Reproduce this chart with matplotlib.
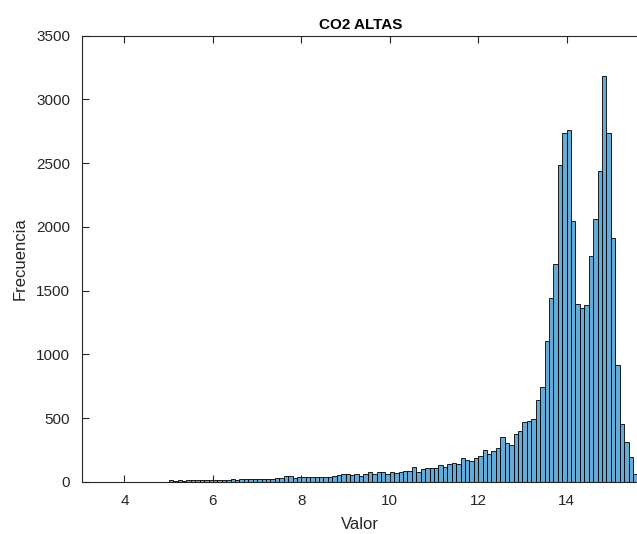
import numpy as np
import matplotlib
matplotlib.use("Agg")
import matplotlib.pyplot as plt

plt.rcParams['font.family'] = ['Liberation Sans', 'DejaVu Sans']

# histogram of CO2 values, bins of 0.1 starting at 3.0
bin_start = 3.0
bin_width = 0.1
counts = [
    0, 0, 0, 0, 1, 0, 0, 1, 0, 0,                                # 3.0 - 3.9
    0, 1, 0, 0, 1, 0, 1, 0, 1, 1,                                # 4.0 - 4.9
    15, 3, 14, 4, 10, 12, 12, 13, 12, 14,                        # 5.0 - 5.9
    13, 15, 14, 16, 18, 17, 19, 18, 20, 19,                      # 6.0 - 6.9
    22, 24, 23, 25, 26, 28, 42, 45, 30, 38,                      # 7.0 - 7.9
    36, 38, 40, 39, 39, 37, 39, 47, 55, 60,                      # 8.0 - 8.9
    60, 55, 57, 48, 57, 76, 60, 76, 78, 60,                      # 9.0 - 9.9
    78, 71, 76, 84, 81, 118, 76, 99, 105, 105,                   # 10.0 - 10.9
    105, 131, 115, 141, 146, 141, 188, 167, 162, 183,            # 11.0 - 11.9
    204, 249, 217, 243, 267, 351, 301, 286, 374, 398,            # 12.0 - 12.9
    471, 476, 495, 641, 746, 1107, 1440, 1706, 2486, 2740,       # 13.0 - 13.9
    2763, 2044, 1397, 1361, 1387, 1772, 2062, 2441, 3185, 2740,  # 14.0 - 14.9
    1913, 916, 455, 312, 191, 58,                                # 15.0 - 15.5
]
xticks = [4, 6, 8, 10, 12, 14]
yticks = [0, 500, 1000, 1500, 2000, 2500, 3000, 3500]

edges = bin_start + bin_width * np.arange(len(counts))

fig = plt.figure(figsize=(6.37, 5.34), dpi=100)
ax = fig.add_axes([0.1295, 0.0979, 0.8725, 0.8352])

ax.bar(edges, counts, width=bin_width, align='edge',
       color=(0.4, 0.668, 0.845), edgecolor='black', linewidth=0.6)

ax.set_xlim(3.05, 15.62)
ax.set_ylim(0, 3500)
ax.set_xticks(xticks)
ax.set_yticks(yticks)

axcol = '#262626'
for s in ax.spines.values():
    s.set_color(axcol)
    s.set_linewidth(0.8)
ax.spines['right'].set_visible(False)
ax.tick_params(direction='in', length=5, width=0.8, color=axcol,
               labelcolor=axcol, labelsize=11, top=True, pad=9)

ax.set_title('CO2 ALTAS', fontsize=11, fontweight='bold', color='black', pad=5)
ax.set_xlabel('Valor', fontsize=12, color=axcol, labelpad=6)
ax.set_ylabel('Frecuencia', fontsize=12, color=axcol, labelpad=6)

fig.savefig('out.png', dpi=100)
